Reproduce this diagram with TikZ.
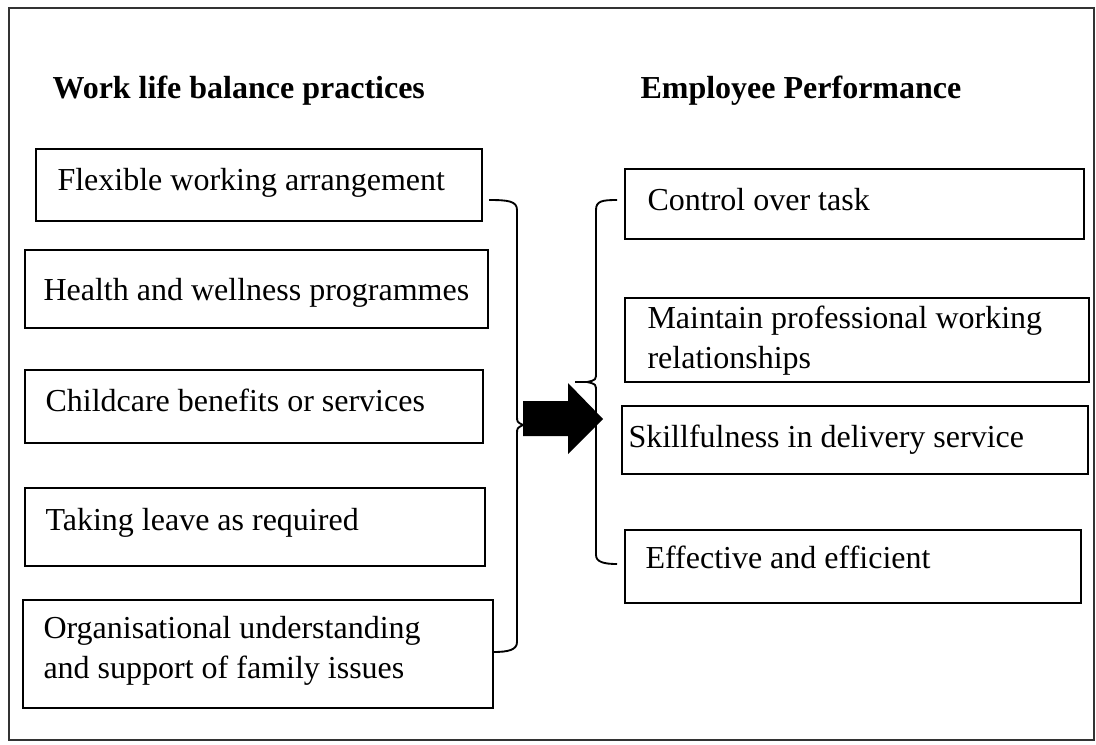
\documentclass[tikz,border=0pt]{standalone}
\usepackage{fontspec}
\setmainfont{Liberation Serif}
\usetikzlibrary{fit}
\begin{document}
\begin{tikzpicture}[x=0.375pt,y=-0.375pt,font=\fontsize{12}{15}\selectfont,
	box/.style={draw,inner sep=0pt},
	txt/.style={anchor=base west,align=left,inner sep=0pt},
	head/.style={txt,font=\fontsize{12}{15}\selectfont\bfseries},
	brace/.style={line width=0.7pt}]
	\useasboundingbox (0,0) rectangle (1096,744);
	\draw [draw=black!80] (9,8) rectangle (1094,740);

	\node[head] (wlb) at (52,98) {Work life balance practices};
	\node[head] (perf) at (640,98) {Employee Performance};

	% practices
	\node[box,fit={(36,149) (482,221)}] (flex) {};
	\node[box,fit={(25,250) (488,328)}] (health) {};
	\node[box,fit={(25,370) (483,443)}] (child) {};
	\node[box,fit={(25,488) (485,566)}] (leave) {};
	\node[box,fit={(23,600) (493,708)}] (org) {};
	\node[txt] (flexlbl) at (57,190) {Flexible working arrangement};
	\node[txt] (healthlbl) at (43,300) {Health and wellness programmes};
	\node[txt] (childlbl) at (45,411) {Childcare benefits or services};
	\node[txt] (leavelbl) at (45,530) {Taking leave as required};
	\node[txt] (orglbl) at (43,678) {Organisational understanding\\and support of family issues};

	% performance
	\node[box,fit={(625,169) (1084,239)}] (ctrl) {};
	\node[box,fit={(625,298) (1089,382)}] (maint) {};
	\node[box,fit={(622,406) (1088,474)}] (skill) {};
	\node[box,fit={(625,530) (1081,603)}] (effect) {};
	\node[txt] (ctrllbl) at (647,210) {Control over task};
	\node[txt] (maintlbl) at (647,368) {Maintain professional working\\relationships};
	\node[txt] (skilllbl) at (628,447) {Skillfulness in delivery service};
	\node[txt] (effectlbl) at (645,568) {Effective and efficient};

	% braces
	\draw [brace] (489,200) .. controls (508,200) and (517,201) .. (517,210) -- (517,416)
		.. controls (517,422) .. (523,425) .. controls (517,428) .. (517,434) -- (517,642)
		.. controls (517,650) and (508,652) .. (493,652);
	\draw [brace] (617,200) .. controls (602,200) and (596,201) .. (596,210) -- (596,372)
		.. controls (596,380) .. (587,382) -- (575,382) -- (587,382)
		.. controls (596,384) .. (596,392) -- (596,555)
		.. controls (596,562) and (604,564) .. (617,564);

	% arrow
	\fill (523,401) -- (568,401) -- (568,383) -- (603,419) -- (568,454) -- (568,436) -- (523,436) -- cycle;
\end{tikzpicture}
\end{document}
